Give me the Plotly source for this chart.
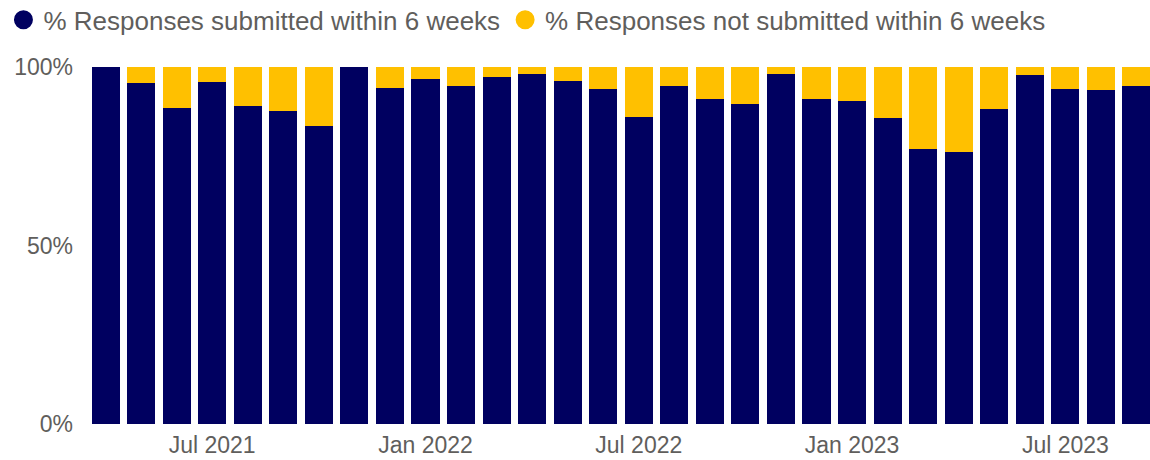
import plotly.graph_objects as go

# Monthly share of responses, Apr 2021 - Sep 2023
months = [
    "Apr 2021", "May 2021", "Jun 2021", "Jul 2021", "Aug 2021", "Sep 2021",
    "Oct 2021", "Nov 2021", "Dec 2021", "Jan 2022", "Feb 2022", "Mar 2022",
    "Apr 2022", "May 2022", "Jun 2022", "Jul 2022", "Aug 2022", "Sep 2022",
    "Oct 2022", "Nov 2022", "Dec 2022", "Jan 2023", "Feb 2023", "Mar 2023",
    "Apr 2023", "May 2023", "Jun 2023", "Jul 2023", "Aug 2023", "Sep 2023",
]
submitted_pct = [
    100.0, 95.4, 88.6, 95.7, 89.2, 87.6,
    83.5, 100.0, 94.0, 96.6, 94.8, 97.3,
    98.0, 96.0, 93.8, 86.1, 94.6, 91.1,
    89.6, 98.0, 91.0, 90.5, 85.8, 76.9,
    76.1, 88.2, 97.8, 93.8, 93.5, 94.6,
]
not_submitted_pct = [round(100.0 - v, 1) for v in submitted_pct]

x_tick_labels = ["Jul 2021", "Jan 2022", "Jul 2022", "Jan 2023", "Jul 2023"]
y_tick_values = [0, 50, 100]
y_tick_labels = ["0%", "50%", "100%"]

series_names = [
    "% Responses submitted within 6 weeks",
    "% Responses not submitted within 6 weeks",
]

NAVY = "#000060"
GOLD = "#FFC000"
TEXT = "#605E5C"
FONT = "Liberation Sans, Arial, sans-serif"

fig = go.Figure()
fig.add_trace(go.Bar(x=months, y=submitted_pct, name=series_names[0],
                     marker=dict(color=NAVY, line=dict(width=0)),
                     showlegend=False))
fig.add_trace(go.Bar(x=months, y=not_submitted_pct, name=series_names[1],
                     marker=dict(color=GOLD, line=dict(width=0)),
                     showlegend=False))

# Circle markers for the legend entries (outline widens the capped legend symbol)
for name, col in zip(series_names, [NAVY, GOLD]):
    fig.add_trace(go.Scatter(x=[None], y=[None], mode="markers", name=name,
                             marker=dict(color=col, size=21, symbol="circle",
                                         line=dict(color=col, width=3))))

fig.update_layout(
    width=1150, height=460,
    barmode="stack", bargap=0.21,
    plot_bgcolor="white", paper_bgcolor="white",
    margin=dict(l=92, r=0, t=67, b=36),
    font=dict(family=FONT, color=TEXT, size=22),
    legend=dict(orientation="h", xref="container", yref="container",
                x=0.003, y=0.957, xanchor="left", yanchor="middle",
                font=dict(size=26, color=TEXT),
                tracegroupgap=0, traceorder="normal",
                bgcolor="rgba(0,0,0,0)"),
)

fig.update_xaxes(
    type="category", range=[-0.38, 29.38],
    tickmode="array", tickvals=x_tick_labels, ticktext=x_tick_labels,
    tickfont=dict(size=23, color=TEXT), ticks="", showgrid=False,
    showline=False, zeroline=False, ticklabelstandoff=5,
)
fig.update_yaxes(
    range=[0, 100], tickmode="array", tickvals=y_tick_values,
    ticktext=y_tick_labels, tickfont=dict(size=23, color=TEXT),
    showgrid=False, zeroline=False, showline=False, ticks="",
    ticklabelstandoff=18,
)

fig.write_html("out.html")
